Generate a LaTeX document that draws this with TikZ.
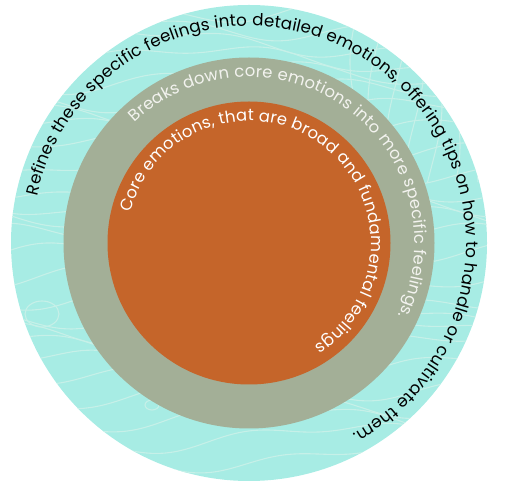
\documentclass[tikz,border=0pt]{standalone}
\usepackage{fontspec}
\setmainfont{Poppins}
\usetikzlibrary{decorations.text}
\definecolor{tealring}{HTML}{A7ECE4}
\definecolor{sagering}{HTML}{A3AF97}
\definecolor{rustcore}{HTML}{C5652A}
\definecolor{contourline}{HTML}{C6F0E8}
\definecolor{paletext}{HTML}{F3F3EF}
\begin{document}
\begin{tikzpicture}[x=1pt,y=1pt,
  ring/.style={circle, draw=none, inner sep=0pt},
  contour/.style={draw=contourline, line width=1.1pt},
  ringtext/.style={decorate, decoration={text along path, text align=fit to path, text color=#1}}
]
\useasboundingbox (0,0) rectangle (506,482);
\coordinate (c) at (249,239);
\node[ring, fill=tealring, minimum size=476pt] (outer) at (c) {};
\begin{scope}
  \clip (c) circle[radius=238];
  \foreach \k in {0,...,27}{
    \draw[contour] plot[domain=0:506, samples=50, smooth]
      (\x, {\k*18 - 10 + 12*sin(\x*0.8 + \k*57) + 5*sin(\x*2.3 + \k*83)});
  }
  \foreach \k in {0,...,6}{
    \draw[contour] plot[domain=300:482, samples=30, smooth]
      ({360 + \k*18 + 10*sin(\x*1.5 + \k*61)}, \x);
  }
  \draw[contour] (42,168) ellipse[x radius=17, y radius=13];
  \draw[contour] (152,77) ellipse[x radius=7, y radius=5];
\end{scope}
\node[ring, fill=sagering, minimum size=371pt] (middle) at (c) {};
\node[ring, fill=rustcore, minimum size=283pt] (inner) at (c) {};
\path[ringtext=black] (c) ++(167.5:217) arc[start angle=167.5, end angle=-61.5, radius=217]
  [decoration={text={|\fontsize{16.7}{20}\selectfont|Refines these specific feelings into detailed emotions, offering tips on how to handle or cultivate them.}}];
\path[ringtext=paletext] (c) ++(133.5:166) arc[start angle=133.5, end angle=-26, radius=166]
  [decoration={text={|\fontsize{16.4}{20}\selectfont|Breaks down core emotions into more specific feelings.}}];
\path[ringtext=white] (c) ++(165.5:122) arc[start angle=165.5, end angle=-57.5, radius=122]
  [decoration={text={|\fontsize{16.4}{20}\selectfont|Core emotions, that are broad and fundamental feelings}}];
\end{tikzpicture}
\end{document}
